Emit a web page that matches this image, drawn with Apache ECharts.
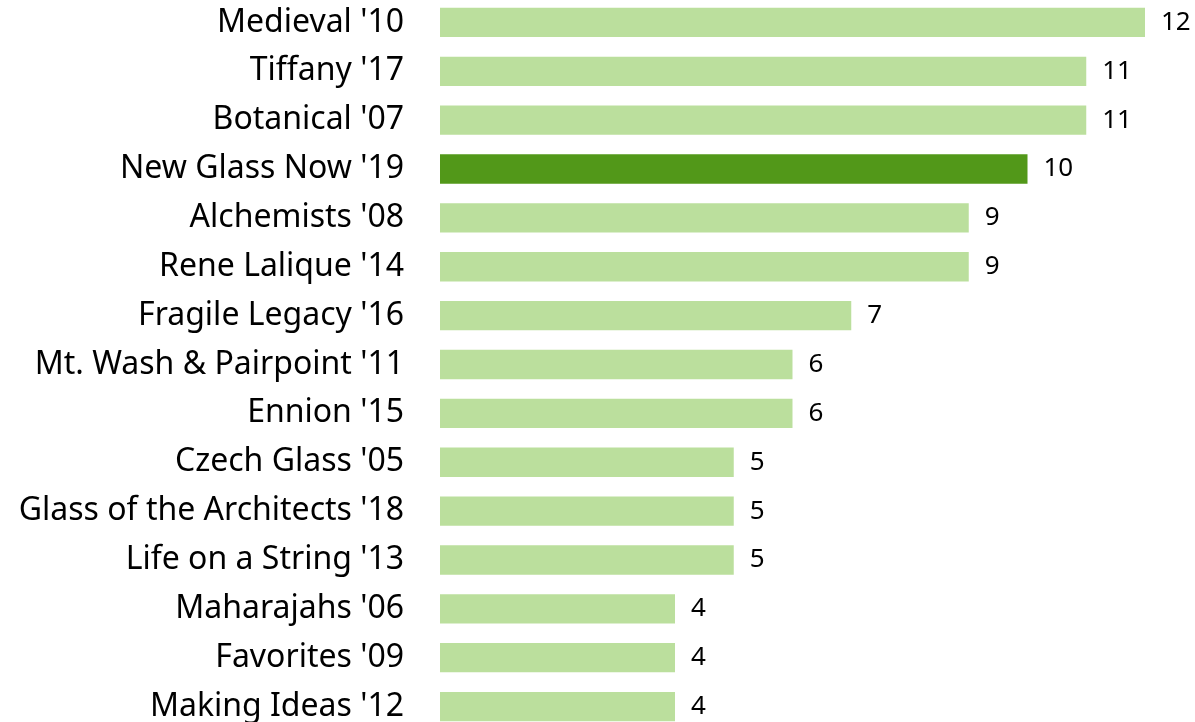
<!DOCTYPE html>
<html>
<head>
<meta charset="utf-8">
<script src="https://cdn.jsdelivr.net/npm/echarts@6/dist/echarts.min.js"></script>
<style>
  html, body { margin: 0; padding: 0; background: #fff; }
  #chart { width: 1195px; height: 722px; }
</style>
</head>
<body>
<div id="chart"></div>
<script>
// exhibitions, top to bottom
var categories = [
  "Medieval '10", "Tiffany '17", "Botanical '07", "New Glass Now '19",
  "Alchemists '08", "Rene Lalique '14", "Fragile Legacy '16",
  "Mt. Wash & Pairpoint '11", "Ennion '15", "Czech Glass '05",
  "Glass of the Architects '18", "Life on a String '13",
  "Maharajahs '06", "Favorites '09", "Making Ideas '12"
];
var values = [12, 11, 11, 10, 9, 9, 7, 6, 6, 5, 5, 5, 4, 4, 4];
var highlight = "New Glass Now '19";

var lightGreen = '#BBDF9D';
var darkGreen = '#529819';
var fontFam = '"Noto Sans", "DejaVu Sans", sans-serif';

var myChart = echarts.init(document.getElementById('chart'));

var barData = values.map(function (v, i) {
  return {
    value: v,
    itemStyle: { color: categories[i] === highlight ? darkGreen : lightGreen }
  };
});

var option = {
  animation: false,
  grid: {
    left: 440,
    right: 50,
    top: -2,
    height: 733,
    containLabel: false,
    outerBoundsMode: 'none'
  },
  xAxis: {
    type: 'value',
    min: 0,
    max: 12,
    show: false
  },
  yAxis: {
    type: 'category',
    inverse: true,
    data: categories,
    axisLine: { show: false },
    axisTick: { show: false },
    axisLabel: {
      margin: 36,
      color: '#000',
      fontSize: 32,
      fontFamily: fontFam
    }
  },
  series: [
    {
      type: 'bar',
      data: barData,
      barCategoryGap: '40%',
      label: {
        show: true,
        position: 'right',
        distance: 16,
        color: '#000',
        fontSize: 26,
        fontFamily: fontFam
      }
    }
  ]
};
myChart.setOption(option);
</script>
</body>
</html>
